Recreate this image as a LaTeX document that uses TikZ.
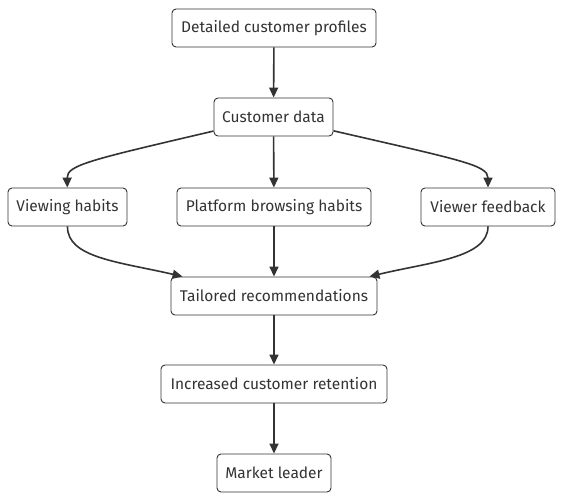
\documentclass[tikz,border=0pt]{standalone}
\usepackage{fontspec}
\setmainfont{Fira Sans}
\usetikzlibrary{arrows.meta}
\definecolor{flowdark}{RGB}{51,51,51}
\tikzset{
  box/.style={draw=flowdark, fill=white, line width=0.9pt, rounded corners=4pt,
    minimum height=38pt, inner xsep=6pt, text=flowdark,
    font=\fontsize{15.5}{18}\selectfont},
  flow/.style={draw=flowdark, line width=1.6pt, -{Triangle[length=10pt,width=9pt]}}
}
\begin{document}
\begin{tikzpicture}[x=1pt,y=-1pt]
  \useasboundingbox (0,0) rectangle (564,500);
  % boxes
  \node[box, minimum width=204pt] (profiles) at (274,28) {Detailed customer profiles};
  \node[box, minimum width=119pt] (custdata) at (273.5,117) {Customer data};
  \node[box, minimum width=119pt] (viewing) at (67.5,207) {Viewing habits};
  \node[box, minimum width=194pt] (browsing) at (274,207) {Platform browsing habits};
  \node[box, minimum width=134pt] (feedback) at (488,207) {Viewer feedback};
  \node[box, minimum width=206pt] (tailored) at (274,296) {Tailored recommendations};
  \node[box, minimum width=226pt] (retention) at (274,384) {Increased customer retention};
  \node[box, minimum width=114pt] (leader) at (274,473) {Market leader};
  % connectors
  \draw[flow] (profiles) -- (custdata);
  \draw[flow] (custdata) .. controls (90,160) and (67,165) .. (viewing);
  \draw[flow] (custdata) -- (browsing);
  \draw[flow] (custdata) .. controls (460,160) and (488,165) .. (feedback);
  \draw[flow] (viewing.south) .. controls (67,258) and (120,262) .. ([xshift=12pt]tailored.north west);
  \draw[flow] (browsing) -- (tailored);
  \draw[flow] (feedback.south) .. controls (488,258) and (430,262) .. ([xshift=-8pt]tailored.north east);
  \draw[flow] (tailored) -- (retention);
  \draw[flow] (retention) -- (leader);
\end{tikzpicture}
\end{document}
